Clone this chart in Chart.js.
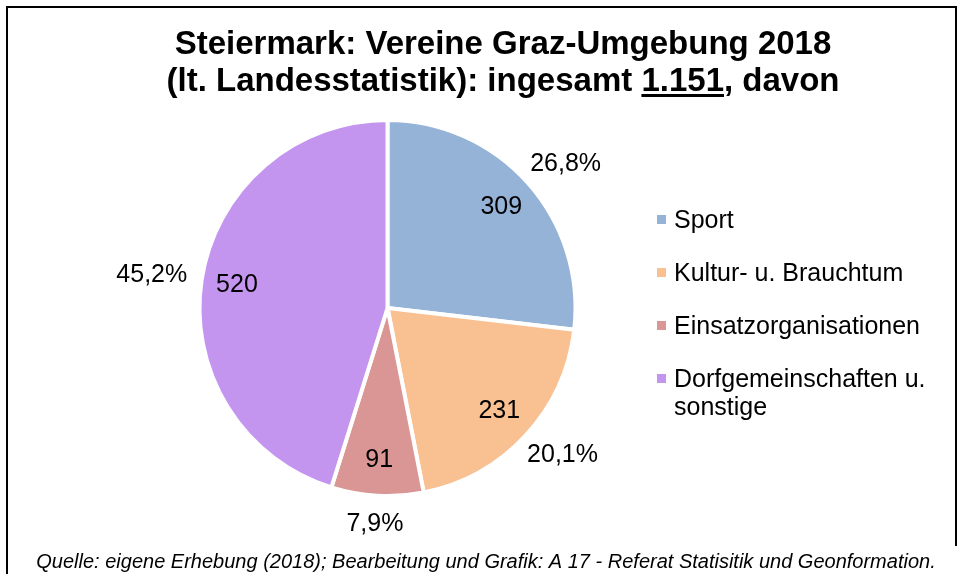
<!DOCTYPE html>
<html>
<head>
<meta charset="utf-8">
<script src="https://cdn.jsdelivr.net/npm/chart.js@4"></script>
<style>
  html, body { margin: 0; padding: 0; background: #fff; }
  #wrap { width: 957px; height: 574px; position: relative; }
</style>
</head>
<body>
<div id="wrap"><canvas id="grafic-vereine" width="957" height="574"></canvas></div>
<script>
const kategorien = ['Sport', 'Kultur- u. Brauchtum', 'Einsatzorganisationen', 'Dorfgemeinschaften u. sonstige'];
const vereine = [309, 231, 91, 520];
const anteile = ['26,8%', '20,1%', '7,9%', '45,2%'];
const farben = ['#95B3D7', '#F9C091', '#D99694', '#C495EF'];

const titelZeile1 = 'Steiermark: Vereine Graz-Umgebung 2018';
const titelZeile2a = '(lt. Landesstatistik): ingesamt ';
const titelSumme = '1.151';
const titelZeile2b = ', davon';
const quelle = 'Quelle: eigene Erhebung (2018); Bearbeitung und Grafik: A 17 - Referat Statisitik und Geonformation.';

const schrift = '"Liberation Sans", Arial, sans-serif';

// Rahmen, Titel, Quelle
const rahmenTitel = {
    id: 'rahmenTitel',
    afterDraw(chart) {
        const ctx = chart.ctx;
        ctx.save();
        ctx.fillStyle = '#000';
        ctx.fillRect(6, 6, 951, 2);
        ctx.fillRect(6, 6, 2, 568);
        ctx.fillRect(955, 6, 2, 540);

        ctx.font = 'bold 33px ' + schrift;
        ctx.textBaseline = 'alphabetic';
        ctx.textAlign = 'center';
        const mitte = 503;
        ctx.fillText(titelZeile1, mitte, 54);

        ctx.textAlign = 'left';
        const wA = ctx.measureText(titelZeile2a).width;
        const wS = ctx.measureText(titelSumme).width;
        const wB = ctx.measureText(titelZeile2b).width;
        let x = mitte - (wA + wS + wB) / 2;
        ctx.fillText(titelZeile2a, x, 91);
        ctx.fillText(titelSumme, x + wA, 91);
        ctx.fillRect(x + wA, 94, wS, 3);
        ctx.fillText(titelZeile2b, x + wA + wS, 91);

        ctx.font = 'italic 20px ' + schrift;
        ctx.textAlign = 'center';
        ctx.fillText(quelle, 486, 568);
        ctx.restore();
    }
};

// Werte innen, Prozent außen (Excel-artig: Box außen an den Kreis gelegt)
const beschriftung = {
    id: 'beschriftung',
    afterDatasetsDraw(chart) {
        const ctx = chart.ctx;
        const meta = chart.getDatasetMeta(0);
        ctx.save();
        ctx.font = '25px ' + schrift;
        ctx.fillStyle = '#000';
        ctx.textAlign = 'center';
        ctx.textBaseline = 'middle';
        meta.data.forEach((arc, i) => {
            const p = arc.getProps(['x', 'y', 'startAngle', 'endAngle', 'outerRadius']);
            const winkel = (p.startAngle + p.endAngle) / 2;
            const c = Math.cos(winkel), s = Math.sin(winkel);
            const r1 = p.outerRadius * 0.81;
            ctx.fillText(String(vereine[i]), p.x + c * r1, p.y + s * r1);
            const r2 = p.outerRadius + 15;
            const w = ctx.measureText(anteile[i]).width;
            ctx.fillText(anteile[i], p.x + c * r2 + c * w / 2, p.y + s * r2 + s * 13);
        });
        ctx.restore();
    }
};

// Legende rechts
const legende = {
    id: 'legende',
    afterDraw(chart) {
        const ctx = chart.ctx;
        ctx.save();
        ctx.font = '25px ' + schrift;
        ctx.textBaseline = 'middle';
        ctx.textAlign = 'left';
        let y = 220;
        chart.data.labels.forEach((label, i) => {
            const zeilen = [];
            let akt = '';
            label.split(' ').forEach(wort => {
                const test = akt ? akt + ' ' + wort : wort;
                if (ctx.measureText(test).width > 265 && akt) {
                    zeilen.push(akt);
                    akt = wort;
                } else {
                    akt = test;
                }
            });
            zeilen.push(akt);
            ctx.fillStyle = chart.data.datasets[0].backgroundColor[i];
            ctx.fillRect(657, y - 5, 9, 9);
            ctx.fillStyle = '#000';
            zeilen.forEach((z, k) => ctx.fillText(z, 674, y + 1 + k * 28));
            y += 53 + (zeilen.length - 1) * 28;
        });
        ctx.restore();
    }
};

const llenç = document.getElementById('grafic-vereine');
new Chart(llenç.getContext('2d'), {
    type: 'pie',
    data: {
        labels: kategorien,
        datasets: [{
            data: vereine,
            backgroundColor: farben,
            borderColor: '#ffffff',
            borderWidth: 4
        }]
    },
    options: {
        responsive: false,
        animation: false,
        devicePixelRatio: 1,
        layout: { padding: { left: 196, right: 378, top: 118, bottom: 76 } },
        plugins: {
            legend: { display: false },
            tooltip: { enabled: false },
            title: { display: false }
        }
    },
    plugins: [rahmenTitel, beschriftung, legende]
});
</script>
</body>
</html>
